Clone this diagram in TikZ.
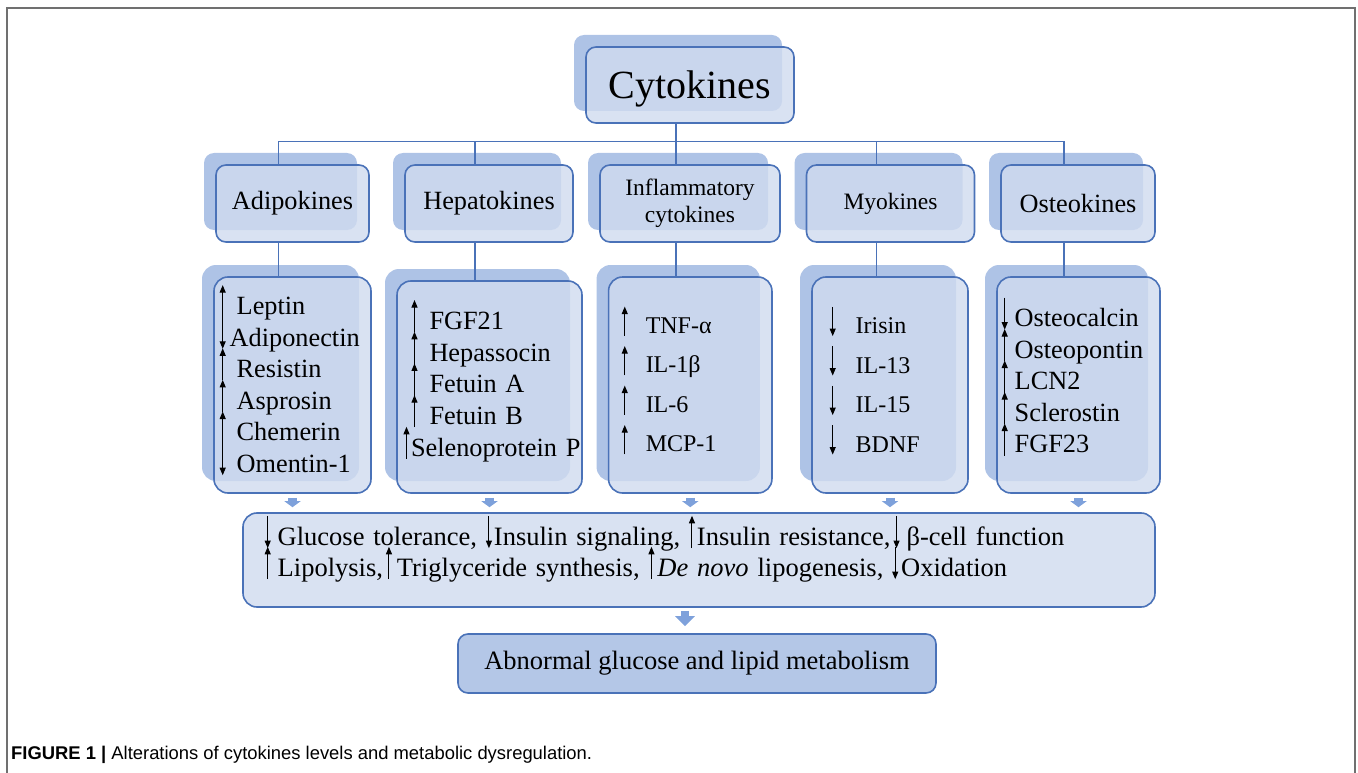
\documentclass[tikz,border=0pt]{standalone}
\usepackage{fontspec}
\setmainfont{Liberation Serif}
\newfontfamily\capfont{Liberation Sans}
\usetikzlibrary{arrows.meta,shadows}
\definecolor{edge}{HTML}{4A72B8}
\definecolor{panel}{HTML}{D0DBEF}
\definecolor{shade}{HTML}{AEC3E6}
\definecolor{deep}{HTML}{B4C7E7}
\definecolor{tipcol}{HTML}{7EA1DB}
\definecolor{rimgray}{HTML}{707070}
\newcommand\setfs[2]{\fontsize{#1}{#2}\selectfont}
\tikzset{updn/.style={-{Triangle[length=7.5pt,width=6pt]},line width=1pt,black,opacity=1}}
\newcommand\incr{\smash{\tikz[baseline=0pt]\draw[updn] (0pt,-.1em) -- (0pt,1.12em);}}
\newcommand\decr{\smash{\tikz[baseline=0pt]\draw[updn] (0pt,1.12em) -- (0pt,-.1em);}}

\begin{document}
\begin{tikzpicture}[x=1pt,y=-1pt,
  plate/.style={draw=edge,fill=panel,fill opacity=.8,text opacity=1,line width=1.6pt,rounded corners=#1},
  plate/.default=10pt,
  card/.style={plate=#1,general shadow={fill=shade,fill opacity=1,draw=none,shadow xshift=-12pt,shadow yshift=12pt}},
  card/.default=10pt,
  items/.style={card=14pt,align=left,minimum height=216pt},
  link/.style={edge,line width=1.6pt},
  blockar/.style={-{Triangle[length=6pt,width=16pt]},tipcol,line width=9pt},
  bigar/.style={-{Triangle[length=10pt,width=19pt]},tipcol,line width=8.5pt},
  rim/.style={rimgray,line width=1.8pt}
]
\useasboundingbox (0,0) rectangle (1358,773);
\draw[rim] (7,773) -- (7,8) -- (1355,8) -- (1355,773);

\node[card,minimum width=208pt,minimum height=76pt,text depth=0pt,font=\setfs{40}{48}] (cyto) at (690,85) {Cytokines};

\node[card,minimum width=153pt,minimum height=77pt,font=\setfs{26.3}{30}] (adi) at (292.5,203.5) {Adipokines};
\node[card,minimum width=168pt,minimum height=77pt,font=\setfs{26.3}{30}] (hep) at (489,203.5) {Hepatokines};
\node[card,minimum width=180pt,minimum height=77pt,align=center,font=\setfs{23.5}{27}] (inf) at (690,203.5) {Inflammatory\\cytokines};
\node[card,minimum width=168pt,minimum height=77pt,font=\setfs{23.5}{27}] (myo) at (890.5,203.5) {Myokines};
\node[card,minimum width=154pt,minimum height=77pt,font=\setfs{26.3}{30}] (ost) at (1078,203.5) {Osteokines};

\node[items,text width=145.6pt,inner xsep=5.7pt,font=\setfs{26.3}{31.6}] (adiL) at (292.5,385)
  {\incr\hspace{11pt}Leptin\\\decr\hspace{4pt}Adiponectin\\\incr\hspace{11pt}Resistin\\\incr\hspace{11pt}Asprosin\\\incr\hspace{11pt}Chemerin\\\decr\hspace{11pt}Omentin-1};
\node[items,minimum height=212pt,text width=182pt,inner xsep=1.5pt,font=\setfs{26.3}{31.7}] (hepL) at (489.5,387)
  {\hspace*{13pt}\incr\hspace{12pt}FGF21\\\hspace*{13pt}\incr\hspace{12pt}Hepassocin\\\hspace*{13pt}\incr\hspace{12pt}Fetuin A\\\hspace*{13pt}\incr\hspace{12pt}Fetuin B\\\mbox{\hspace*{5pt}\incr\hspace{1.5pt}Selenoprotein P}};
\node[items,text width=137pt,inner xsep=13.2pt,font=\setfs{24}{39.5}] (infL) at (690.25,385)
  {\incr\hspace{18pt}TNF-α\\\incr\hspace{18pt}IL-1β\\\incr\hspace{18pt}IL-6\\\incr\hspace{18pt}MCP-1};
\node[items,text width=120.6pt,inner xsep=17.7pt,font=\setfs{24}{39.5}] (myoL) at (890,385)
  {\decr\hspace{20pt}Irisin\\\decr\hspace{20pt}IL-13\\\decr\hspace{20pt}IL-15\\\decr\hspace{20pt}BDNF};
\node[items,text width=153.6pt,inner xsep=4.7pt,font=\setfs{26.3}{31.5}] (ostL) at (1078.5,385)
  {\decr\hspace{7pt}Osteocalcin\\\incr\hspace{7pt}Osteopontin\\\incr\hspace{7pt}LCN2\\\incr\hspace{7pt}Sclerostin\\\incr\hspace{7pt}FGF23\par\kern8pt};

\node[plate=14pt,text width=868.6pt,inner xsep=21.7pt,minimum height=94pt,align=left,font=\setfs{26.5}{31}] (eff) at (699,560)
  {\decr\hspace{7pt}Glucose tolerance, \decr\hspace{2pt}Insulin signaling, \incr\hspace{2pt}Insulin resistance,\hspace{3pt}\decr\hspace{7pt}β-cell function\\
   \incr\hspace{7pt}Lipolysis,\hspace{3pt}\incr\hspace{5pt}Triglyceride synthesis, \incr\hspace{3pt}\textit{De novo} lipogenesis, \decr\hspace{3pt}Oxidation\par\kern11pt};
\node[plate,fill=deep,fill opacity=1,minimum width=478pt,minimum height=59pt,font=\setfs{26.5}{32}] (abn) at (697,663.5) {Abnormal glucose and lipid metabolism};

\coordinate (bus) at (676,141.5);
\draw[link] ([xshift=-14pt]cyto.south) -- (bus);
\foreach \n/\m in {adi/adiL,hep/hepL,inf/infL,myo/myoL,ost/ostL}{
  \draw[link] (bus) -| ([xshift=-14pt]\n.north);
  \draw[link] ([xshift=-14pt]\n.south) -- ([xshift=-14pt]\n.south |- \m.north);
  \draw[blockar] ([yshift=-4pt]\m.south) -- ([yshift=5pt]\m.south |- eff.north);
}
\draw[bigar] ([xshift=-14pt,yshift=-3pt]eff.south) -- ([xshift=-14pt,yshift=7pt]eff.south |- abn.north);

\node[anchor=base west,inner sep=0pt,font=\capfont\setfs{18.4}{22}] (cap) at (11,759)
  {\textbf{FIGURE 1 |} Alterations of cytokines levels and metabolic dysregulation.};
\end{tikzpicture}
\end{document}
